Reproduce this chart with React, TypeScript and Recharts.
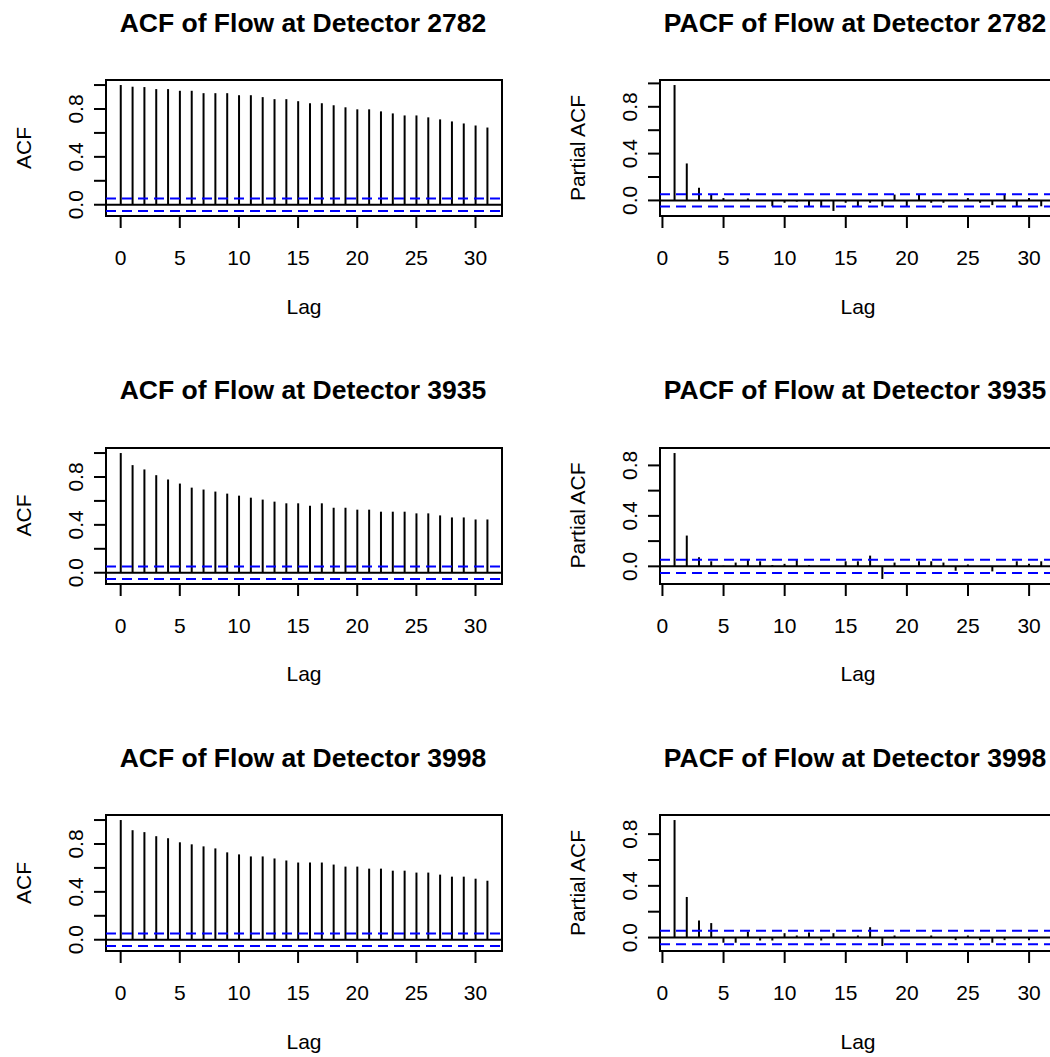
import React from "react";
import { ComposedChart, Bar, XAxis, YAxis, ReferenceLine, ReferenceArea } from "recharts";

const acfLags = [0, 1, 2, 3, 4, 5, 6, 7, 8, 9, 10, 11, 12, 13, 14, 15, 16, 17, 18, 19, 20, 21, 22, 23, 24, 25, 26, 27, 28, 29, 30, 31];
const pacfLags = [1, 2, 3, 4, 5, 6, 7, 8, 9, 10, 11, 12, 13, 14, 15, 16, 17, 18, 19, 20, 21, 22, 23, 24, 25, 26, 27, 28, 29, 30, 31];

const acf2782 = [1.0, 0.986, 0.983, 0.966, 0.966, 0.952, 0.952, 0.932, 0.932, 0.932, 0.915, 0.915, 0.899, 0.882, 0.882, 0.865, 0.848, 0.848, 0.831, 0.814, 0.797, 0.797, 0.78, 0.763, 0.746, 0.746, 0.73, 0.713, 0.696, 0.679, 0.662, 0.645];
const pacf2782 = [0.986, 0.316, 0.109, 0.052, 0.02, 0.005, 0.017, 0.003, -0.05, -0.02, -0.01, -0.05, -0.05, -0.09, -0.02, -0.05, -0.02, -0.05, 0.05, -0.05, 0.05, -0.02, -0.02, 0.005, 0.02, -0.02, -0.04, 0.05, -0.05, 0.02, -0.05];

const acf3935 = [1.0, 0.899, 0.863, 0.815, 0.779, 0.745, 0.711, 0.695, 0.678, 0.661, 0.644, 0.627, 0.611, 0.594, 0.58, 0.58, 0.56, 0.58, 0.543, 0.543, 0.527, 0.527, 0.51, 0.51, 0.51, 0.496, 0.496, 0.479, 0.462, 0.462, 0.445, 0.445];
const pacf3935 = [0.898, 0.244, 0.072, 0.04, 0.005, 0.03, 0.05, 0.04, 0.01, 0.02, 0.05, 0.01, 0.0, 0.0, 0.04, 0.04, 0.085, -0.1, 0.03, 0.0, 0.04, 0.04, 0.03, -0.035, 0.015, 0.0, -0.04, 0.0, 0.04, 0.02, 0.04];

const acf3998 = [1.0, 0.915, 0.899, 0.865, 0.848, 0.814, 0.797, 0.78, 0.763, 0.73, 0.713, 0.696, 0.696, 0.679, 0.662, 0.645, 0.645, 0.645, 0.628, 0.611, 0.611, 0.594, 0.594, 0.577, 0.577, 0.561, 0.561, 0.544, 0.527, 0.527, 0.51, 0.493];
const pacf3998 = [0.909, 0.314, 0.132, 0.112, -0.04, -0.04, 0.047, -0.023, -0.023, 0.034, 0.016, 0.04, -0.023, 0.034, 0.0, 0.016, 0.08, -0.065, 0.016, 0.0, 0.0, 0.016, 0.0, -0.02, 0.016, -0.02, -0.04, -0.02, 0.0, -0.02, 0.0];

const CLIM = 0.052;
const xTickValues = [0, 5, 10, 15, 20, 25, 30];
const yTickValues = [0, 0.2, 0.4, 0.6, 0.8, 1.0];
const yLabelValues = [0, 0.4, 0.8];

const FONT = "'Liberation Sans', Arial, Helvetica, sans-serif";
const BOX_W = 396;
const BOX_H = 136;
const PAD_L = 110;
const PAD_T = 20;
const PAD_R = 10;
const XAXIS_H = 60;
const PAD_B = 70;

const XTick = (props: any) => {
  const { x, y, payload } = props;
  return (
    <text x={x} y={y + 37} textAnchor="middle" fontSize={21} fontFamily={FONT} fill="#000">
      {String(payload.value)}
    </text>
  );
};

const YTick = (props: any) => {
  const { x, y, payload } = props;
  const v = payload.value;
  const show = yLabelValues.some((t) => Math.abs(t - v) < 1e-6);
  if (!show) return <g />;
  const bx = x - 11.3;
  return (
    <text
      x={bx}
      y={y}
      transform={`rotate(-90, ${bx}, ${y})`}
      textAnchor="middle"
      fontSize={21}
      fontFamily={FONT}
      fill="#000"
    >
      {v.toFixed(1)}
    </text>
  );
};

const Spike = (props: any) => {
  const { x, y, width, height } = props;
  if (x == null || y == null) return <g />;
  const cx = x + width / 2;
  return <line x1={cx} x2={cx} y1={y} y2={y + height} stroke="#000" strokeWidth={2} />;
};

type PanelProps = {
  lags: number[];
  values: number[];
  boxLeft: number;
  boxTop: number;
};

function Panel({ lags, values, boxLeft, boxTop }: PanelProps) {
  const data = lags.map((lag, i) => ({ lag, value: values[i] }));
  const xLo = Math.min(...lags);
  const xHi = Math.max(...lags);
  const xPad = 0.04 * (xHi - xLo);
  const xDomain: [number, number] = [xLo - xPad, xHi + xPad];
  const yLo = Math.min(...values, -CLIM);
  const yHi = Math.max(...values, CLIM);
  const yPad = 0.04 * (yHi - yLo);
  const yDomain: [number, number] = [yLo - yPad, yHi + yPad];
  const yTicks = yTickValues.filter((v) => v <= yDomain[1] && v >= yDomain[0]);

  return (
    <div style={{ position: "absolute", left: boxLeft - PAD_L, top: boxTop - PAD_T }}>
      <ComposedChart
        width={PAD_L + BOX_W + PAD_R}
        height={PAD_T + BOX_H + PAD_B}
        data={data}
        margin={{ top: PAD_T, right: PAD_R, bottom: PAD_B - XAXIS_H, left: 0 }}
      >
        <XAxis
          dataKey="lag"
          type="number"
          domain={xDomain}
          allowDataOverflow
          ticks={xTickValues}
          interval={0}
          height={XAXIS_H}
          tickSize={12}
          tickMargin={0}
          axisLine={false}
          tickLine={{ stroke: "#000", strokeWidth: 2 }}
          tick={<XTick />}
        />
        <YAxis
          type="number"
          domain={yDomain}
          allowDataOverflow
          ticks={yTicks}
          interval={0}
          width={PAD_L}
          tickSize={12}
          tickMargin={0}
          axisLine={false}
          tickLine={{ stroke: "#000", strokeWidth: 2 }}
          tick={<YTick />}
        />
        <ReferenceArea
          x1={xDomain[0]}
          x2={xDomain[1]}
          y1={yDomain[0]}
          y2={yDomain[1]}
          fill="none"
          fillOpacity={0}
          stroke="#000"
          strokeWidth={2}
        />
        <Bar dataKey="value" barSize={2} fill="#000" isAnimationActive={false} shape={<Spike />} />
        <ReferenceLine y={0} stroke="#000" strokeWidth={2} />
        <ReferenceLine y={CLIM} stroke="#0000ff" strokeWidth={2} strokeDasharray="10 6" />
        <ReferenceLine y={-CLIM} stroke="#0000ff" strokeWidth={2} strokeDasharray="10 6" />
      </ComposedChart>
    </div>
  );
}

const panels = [
  { title: "ACF of Flow at Detector 2782", yLabel: "ACF", lags: acfLags, values: acf2782, boxLeft: 106, boxTop: 80, titleX: 303 },
  { title: "PACF of Flow at Detector 2782", yLabel: "Partial ACF", lags: pacfLags, values: pacf2782, boxLeft: 660, boxTop: 80, titleX: 855 },
  { title: "ACF of Flow at Detector 3935", yLabel: "ACF", lags: acfLags, values: acf3935, boxLeft: 106, boxTop: 447.5, titleX: 303 },
  { title: "PACF of Flow at Detector 3935", yLabel: "Partial ACF", lags: pacfLags, values: pacf3935, boxLeft: 660, boxTop: 447.5, titleX: 855 },
  { title: "ACF of Flow at Detector 3998", yLabel: "ACF", lags: acfLags, values: acf3998, boxLeft: 106, boxTop: 815, titleX: 303 },
  { title: "PACF of Flow at Detector 3998", yLabel: "Partial ACF", lags: pacfLags, values: pacf3998, boxLeft: 660, boxTop: 815, titleX: 855 },
];

export default function App() {
  return (
    <div
      style={{
        position: "absolute",
        left: 0,
        top: 0,
        width: 1050,
        height: 1057,
        overflow: "hidden",
        background: "#fff",
      }}
    >
      {panels.map((p) => (
        <Panel key={p.title} lags={p.lags} values={p.values} boxLeft={p.boxLeft} boxTop={p.boxTop} />
      ))}
      <svg
        width={1050}
        height={1057}
        style={{ position: "absolute", left: 0, top: 0, pointerEvents: "none" }}
      >
        {panels.map((p) => (
          <g key={p.title}>
            <text
              x={p.titleX}
              y={p.boxTop - 48.3}
              textAnchor="middle"
              fontSize={26.5}
              fontWeight="bold"
              fontFamily={FONT}
              fill="#000"
            >
              {p.title}
            </text>
            <text
              x={p.boxLeft + BOX_W / 2}
              y={p.boxTop + BOX_H + 97.5}
              textAnchor="middle"
              fontSize={21}
              fontFamily={FONT}
              fill="#000"
            >
              Lag
            </text>
            <text
              x={p.boxLeft - 75}
              y={p.boxTop + BOX_H / 2}
              transform={`rotate(-90, ${p.boxLeft - 75}, ${p.boxTop + BOX_H / 2})`}
              textAnchor="middle"
              fontSize={21}
              fontFamily={FONT}
              fill="#000"
            >
              {p.yLabel}
            </text>
          </g>
        ))}
      </svg>
    </div>
  );
}
